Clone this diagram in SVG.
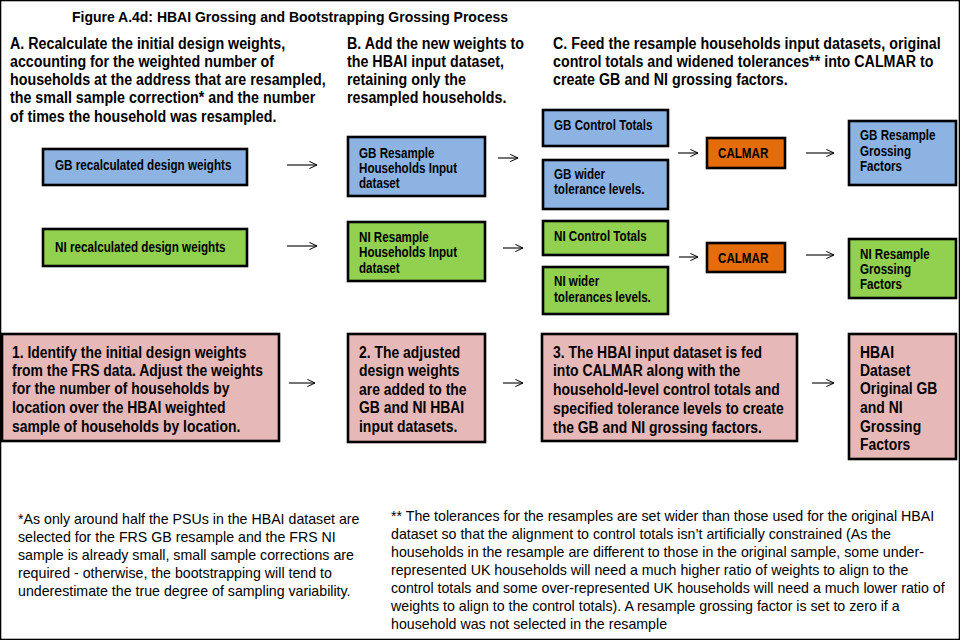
<svg xmlns="http://www.w3.org/2000/svg" width="960" height="640" viewBox="0 0 960 640">
<defs>
<marker id="ah" viewBox="0 0 10 10" refX="9.5" refY="5" markerWidth="9" markerHeight="9" markerUnits="userSpaceOnUse" orient="auto">
<path d="M1,1 L9.5,5 L1,9" fill="none" stroke="#000" stroke-width="1.1"/>
</marker>
</defs>
<style>
text{font-family:"Liberation Sans",Arial,sans-serif;fill:#000}
.t{font-weight:bold;font-size:14.5px}
.h{font-weight:bold;font-size:17px}
.b{font-weight:bold;font-size:14px}
.p{font-weight:bold;font-size:17px}
.f{font-size:14.2px}
rect{stroke:#000;stroke-width:2.6}
.blue{fill:#8DB3E2}
.green{fill:#92D050}
.orange{fill:#E46C0A}
.pink{fill:#E6B9B8}
.c line{stroke:#000;stroke-width:1.1;marker-end:url(#ah)}
</style>
<rect x="0" y="0" width="960" height="640" fill="#fff" stroke="none"/>
<g transform="translate(72,0) scale(0.965,1)"><text class="t" x="0" y="22">Figure A.4d: HBAI Grossing and Bootstrapping Grossing Process</text></g>
<g id="headA" transform="translate(10,0) scale(0.84,1)">
<text class="h" x="0" y="49">A. Recalculate the initial design weights,</text>
<text class="h" x="0" y="67">accounting for the weighted number of</text>
<text class="h" x="0" y="85">households at the address that are resampled,</text>
<text class="h" x="0" y="103">the small sample correction* and the number</text>
<text class="h" x="0" y="122">of times the household was resampled.</text>
</g>
<g id="headB" transform="translate(347,0) scale(0.84,1)">
<text class="h" x="0" y="49">B. Add the new weights to</text>
<text class="h" x="0" y="67">the HBAI input dataset,</text>
<text class="h" x="0" y="85">retaining only the</text>
<text class="h" x="0" y="103">resampled households.</text>
</g>
<g id="headC" transform="translate(553,0) scale(0.84,1)">
<text class="h" x="0" y="49">C. Feed the resample households input datasets, original</text>
<text class="h" x="0" y="67">control totals and widened tolerances** into CALMAR to</text>
<text class="h" x="0" y="85">create GB and NI grossing factors.</text>
</g>
<g id="gbWeights"><rect class="blue" x="43" y="149" width="204" height="36"/><g transform="translate(55,0) scale(0.835,1)"><text class="b" x="0" y="170">GB recalculated design weights</text></g></g>
<g id="gbInput"><rect class="blue" x="348" y="137" width="137" height="59"/><g transform="translate(359,0) scale(0.83,1)"><text class="b" x="0" y="158">GB Resample</text><text class="b" x="0" y="173">Households Input</text><text class="b" x="0" y="188">dataset</text></g></g>
<g id="gbControl"><rect class="blue" x="543" y="110" width="125" height="36"/><g transform="translate(554,0) scale(0.83,1)"><text class="b" x="0" y="130">GB Control Totals</text></g></g>
<g id="gbTol"><rect class="blue" x="543" y="160" width="125" height="49"/><g transform="translate(554,0) scale(0.83,1)"><text class="b" x="0" y="179">GB wider</text><text class="b" x="0" y="194">tolerance levels.</text></g></g>
<g id="gbCalmar"><rect class="orange" x="707" y="138" width="78" height="30"/><g transform="translate(718,0) scale(0.83,1)"><text class="b" x="0" y="158">CALMAR</text></g></g>
<g id="gbFactors"><rect class="blue" x="849" y="121" width="107" height="64"/><g transform="translate(860,0) scale(0.83,1)"><text class="b" x="0" y="140">GB Resample</text><text class="b" x="0" y="156">Grossing</text><text class="b" x="0" y="171">Factors</text></g></g>
<g id="niWeights"><rect class="green" x="43" y="229" width="204" height="37"/><g transform="translate(55,0) scale(0.835,1)"><text class="b" x="0" y="252">NI recalculated design weights</text></g></g>
<g id="niInput"><rect class="green" x="348" y="222" width="137" height="59"/><g transform="translate(359,0) scale(0.83,1)"><text class="b" x="0" y="242">NI Resample</text><text class="b" x="0" y="257">Households Input</text><text class="b" x="0" y="273">dataset</text></g></g>
<g id="niControl"><rect class="green" x="543" y="221" width="125" height="34"/><g transform="translate(554,0) scale(0.83,1)"><text class="b" x="0" y="241">NI Control Totals</text></g></g>
<g id="niTol"><rect class="green" x="543" y="267" width="125" height="47"/><g transform="translate(554,0) scale(0.83,1)"><text class="b" x="0" y="286">NI wider</text><text class="b" x="0" y="302">tolerances levels.</text></g></g>
<g id="niCalmar"><rect class="orange" x="707" y="243" width="78" height="29"/><g transform="translate(718,0) scale(0.83,1)"><text class="b" x="0" y="263">CALMAR</text></g></g>
<g id="niFactors"><rect class="green" x="849" y="239" width="107" height="59"/><g transform="translate(860,0) scale(0.83,1)"><text class="b" x="0" y="259">NI Resample</text><text class="b" x="0" y="274">Grossing</text><text class="b" x="0" y="289">Factors</text></g></g>
<g id="step1"><rect class="pink" x="2" y="334" width="277" height="107"/>
<g transform="translate(12,0) scale(0.82,1)">
<text class="p" x="0" y="358">1. Identify the initial design weights</text>
<text class="p" x="0" y="376">from the FRS data. Adjust the weights</text>
<text class="p" x="0" y="394">for the number of households by</text>
<text class="p" x="0" y="413">location over the HBAI weighted</text>
<text class="p" x="0" y="432">sample of households by location.</text></g></g>
<g id="step2"><rect class="pink" x="348" y="334" width="137" height="108"/>
<g transform="translate(359,0) scale(0.82,1)">
<text class="p" x="0" y="358">2. The adjusted</text>
<text class="p" x="0" y="376">design weights</text>
<text class="p" x="0" y="395">are added to the</text>
<text class="p" x="0" y="413">GB and NI HBAI</text>
<text class="p" x="0" y="432">input datasets.</text></g></g>
<g id="step3"><rect class="pink" x="542" y="334" width="255" height="107"/>
<g transform="translate(553,0) scale(0.82,1)">
<text class="p" x="0" y="358">3. The HBAI input dataset is fed</text>
<text class="p" x="0" y="376">into CALMAR along with the</text>
<text class="p" x="0" y="395">household-level control totals and</text>
<text class="p" x="0" y="414">specified tolerance levels to create</text>
<text class="p" x="0" y="433">the GB and NI grossing factors.</text></g></g>
<g id="step4"><rect class="pink" x="849" y="334" width="107" height="125"/>
<g transform="translate(860,0) scale(0.82,1)">
<text class="p" x="0" y="358">HBAI</text>
<text class="p" x="0" y="376">Dataset</text>
<text class="p" x="0" y="394">Original GB</text>
<text class="p" x="0" y="413">and NI</text>
<text class="p" x="0" y="432">Grossing</text>
<text class="p" x="0" y="450">Factors</text></g></g>
<g id="connectors" class="c">
<line x1="287" y1="165" x2="317" y2="165"/>
<line x1="498" y1="158" x2="518" y2="158"/>
<line x1="678" y1="153" x2="698" y2="153"/>
<line x1="806" y1="153" x2="834" y2="153"/>
<line x1="287" y1="246" x2="317" y2="246"/>
<line x1="503" y1="248" x2="523" y2="248"/>
<line x1="679" y1="257" x2="698" y2="257"/>
<line x1="806" y1="255" x2="834" y2="255"/>
<line x1="289" y1="383" x2="315" y2="383"/>
<line x1="503" y1="383" x2="523" y2="383"/>
<line x1="812" y1="383" x2="834" y2="383"/>
</g>
<g id="note1">
<text class="f" x="18" y="524">*As only around half the PSUs in the HBAI dataset are</text>
<text class="f" x="18" y="542">selected for the FRS GB resample and the FRS NI</text>
<text class="f" x="18" y="560">sample is already small, small sample corrections are</text>
<text class="f" x="18" y="578">required - otherwise, the bootstrapping will tend to</text>
<text class="f" x="18" y="596">underestimate the true degree of sampling variability.</text>
</g>
<g id="note2">
<text class="f" x="391" y="521">** The tolerances for the resamples are set wider than those used for the original HBAI</text>
<text class="f" x="391" y="539">dataset so that the alignment to control totals isn’t artificially constrained (As the</text>
<text class="f" x="391" y="557">households in the resample are different to those in the original sample, some under-</text>
<text class="f" x="391" y="575">represented UK households will need a much higher ratio of weights to align to the</text>
<text class="f" x="391" y="593">control totals and some over-represented UK households will need a much lower ratio of</text>
<text class="f" x="391" y="611">weights to align to the control totals). A resample grossing factor is set to zero if a</text>
<text class="f" x="391" y="629">household was not selected in the resample</text>
</g>
</svg>
